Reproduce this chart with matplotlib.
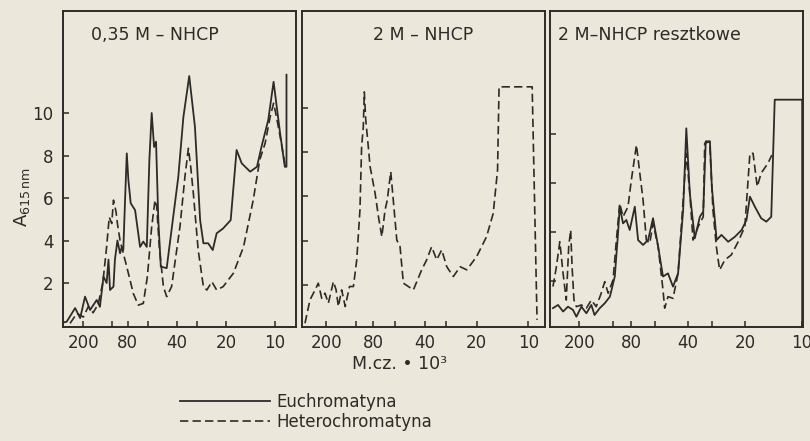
import numpy as np
import matplotlib
matplotlib.use("Agg")
import matplotlib.pyplot as plt

# molecular weight (kDa) and absorbance
p1_eu_m = [320, 299, 244, 216, 192, 170, 145, 134, 123, 114, 109, 105, 98, 96, 92.7, 89.3, 87.1, 85.3, 83.2, 81.2,
           79.4, 76.8, 72.2, 67.3, 64.3, 61.2, 59.0, 57.1, 55.2, 53.7, 52.0, 50.2, 46.2, 39.2, 36.5, 33.6, 31.0,
           28.8, 27.5, 25.7, 24.1, 22.8, 20.8, 18.7, 17.2, 16.0, 14.2, 12.9, 12.1, 11.0, 10.2, 9.3, 8.7, 8.5, 8.5]
p1_eu_a = [0.15, 0.18, 0.82, 0.35, 1.36, 0.73, 1.2, 0.88, 2.3, 2.0, 3.1, 1.67, 1.83, 3.1, 4.0, 3.4, 3.7, 3.55, 5.9, 8.1,
           6.85, 5.75, 5.43, 3.7, 3.95, 3.7, 7.8, 10.0, 8.4, 8.65, 4.96, 2.77, 2.7, 7.0, 9.8, 11.74, 9.36,
           4.96, 3.87, 3.87, 3.55, 4.34, 4.57, 4.96, 8.26, 7.63, 7.24, 7.47, 8.41, 9.67, 11.47, 9.04, 7.47, 7.47, 11.8]
p1_het_m = [276, 234, 200, 177, 158, 140, 125, 114, 107, 100.7, 98, 94.5, 92.7, 89.3, 85.3, 79.4, 74.0, 69.0, 64.3,
            60.7, 57.1, 54.5, 53.2, 51.3, 48.4, 46.2, 43.1, 38.3, 35.7, 34.0, 32.9, 31.7, 29.6, 27.5, 26.2, 24.4,
            22.8, 20.8, 18.0, 15.6, 13.6, 12.4, 11.5, 10.7, 10.2, 9.8, 9.3, 8.7]
p1_het_a = [0.1, 0.57, 0.4, 0.9, 0.6, 1.0, 2.0, 3.7, 5.1, 4.8, 5.9, 5.35, 4.8, 4.0, 3.4, 2.46, 1.5, 0.96, 1.04,
            2.3, 4.65, 5.9, 5.6, 3.7, 1.83, 1.36, 1.83, 4.65, 7.0, 8.34, 7.47, 6.22, 3.55, 1.83, 1.67, 2.06,
            1.67, 1.83, 2.46, 3.7, 5.9, 7.8, 8.57, 9.83, 10.46, 9.83, 8.9, 7.63]

p2_het_m = [324, 289, 257, 239, 221, 205, 190, 169, 159, 151, 140, 129, 117, 107, 99.5, 95.3, 93.2, 91.1, 89.9,
            88.2, 86.3, 83.2, 77.8, 74.4, 71.1, 68.1, 66.1, 63.1, 61.0, 58.2, 55.7, 53.3, 46.6, 41.7, 39.0, 36.5,
            34.1, 31.9, 29.8, 27.3, 24.9, 22.8, 20.0, 17.5, 16.0, 15.1, 14.8, 9.5, 8.9]
p2_het_a = [0.3, 1.35, 1.8, 2.1, 1.42, 1.65, 1.2, 2.17, 1.8, 1.05, 1.8, 1.05, 1.95, 1.95, 3.15, 5.4, 8.24, 9.14, 10.7,
            9.44, 8.69, 7.34, 6.14, 5.09, 4.19, 5.39, 5.84, 7.11, 5.84, 4.04, 3.74, 2.1, 1.8, 2.7, 3.15, 3.74,
            3.15, 3.6, 2.84, 2.4, 2.84, 2.7, 3.29, 4.19, 5.24, 7.19, 10.93, 10.93, 0.45]

p3_eu_m = [347, 312, 281, 254, 229, 213, 192, 173, 156, 146, 131, 118, 106, 97.5, 93.7, 91.8, 88.2, 84.7, 81.3,
           76.4, 73.4, 69.1, 65.0, 61.2, 57.5, 54.2, 51.0, 48.0, 45.1, 42.4, 40.8, 39.1, 36.8, 34.6, 33.2, 32.2,
           30.6, 29.9, 28.2, 26.6, 24.5, 22.6, 20.8, 19.6, 18.8, 17.7, 16.4, 15.4, 14.5, 13.9, 9.95, 9.95]
p3_eu_a = [0.89, 1.02, 0.75, 0.95, 0.82, 0.54, 0.95, 0.68, 1.02, 0.61, 0.89, 1.09, 1.36, 2.18, 3.95, 5.03, 4.35,
           4.49, 4.08, 5.03, 3.67, 3.47, 3.67, 4.56, 3.4, 2.18, 2.31, 1.77, 2.31, 4.9, 8.23, 5.58, 3.74, 4.62,
           4.83, 7.7, 7.7, 5.85, 3.67, 3.88, 3.6, 3.8, 4.08, 4.49, 5.44, 5.03, 4.56, 4.42, 4.62, 9.4, 9.4, 0.13]
p3_het_m = [347, 323, 301, 281, 263, 250, 240, 233, 224, 213, 192, 173, 156, 141, 127, 118, 110, 99.6, 95.6, 91.8,
            88.2, 83.0, 79.7, 74.9, 71.9, 69.1, 66.4, 63.7, 61.2, 57.5, 54.2, 53.1, 51.0, 48.0, 45.1, 42.4, 40.8,
            39.1, 37.6, 35.3, 33.2, 32.6, 30.7, 29.5, 28.3, 27.2, 25.5, 23.6, 21.7, 20.0, 18.8, 18.1, 17.2, 16.4,
            15.1, 14.4]
p3_het_a = [1.77, 2.58, 3.6, 2.31, 1.22, 3.4, 4.08, 2.58, 1.22, 0.95, 1.02, 0.89, 1.22, 0.95, 1.5, 1.97, 1.5, 2.04,
            3.67, 5.17, 4.62, 5.03, 6.12, 7.55, 6.4, 5.31, 3.67, 3.54, 4.35, 3.4, 1.63, 0.89, 1.36, 1.29, 2.31,
            5.31, 7.21, 5.58, 3.67, 4.22, 4.62, 7.62, 7.69, 4.9, 3.4, 2.45, 2.86, 3.06, 3.6, 4.22, 7.21, 7.21,
            5.85, 6.4, 6.8, 7.14]

titles = ["0,35 M – NHCP", "2 M – NHCP", "2 M–NHCP resztkowe"]
tick_vals = [200, 80, 40, 20, 10]
tick_labels = ["200", "80", "40", "20", "10"]
minor_vals = [100, 60, 30]
y_ticks = [[2, 4, 6, 8, 10], [2, 4, 6, 8, 10], [2, 4, 6, 8]]

paper = "#ebe7db"
ink = "#2d2b28"


# gel filtration scale: log below 100 kDa, compressed above
def fwd(m):
    lm = np.log10(np.clip(np.asarray(m, float), 1e-6, None))
    return np.where(lm > 2, 2 + (lm - 2) * 0.585, lm)


def inv(p):
    p = np.asarray(p, float)
    return np.where(p > 2, 10 ** (2 + (p - 2) / 0.585), 10 ** p)


fig = plt.figure(figsize=(8.1, 4.41), dpi=100, facecolor=paper)
boxes = [[63 / 810, 114 / 441, 233 / 810, 316 / 441],
         [302 / 810, 114 / 441, 243 / 810, 316 / 441],
         [550 / 810, 114 / 441, 253 / 810, 316 / 441]]
xlims = [(327, 7.43), (347, 8.0), (369, 9.85)]
ylims = [(-0.07, 14.8), (0.13, 14.34), (0.12, 13.02)]

dash = (0, (5, 2.5))
axes = []
for i in range(3):
    ax = fig.add_axes(boxes[i])
    ax.set_facecolor(paper)
    ax.set_xscale("function", functions=(fwd, inv))
    ax.set_xlim(*xlims[i])
    ax.set_ylim(*ylims[i])
    for s in ax.spines.values():
        s.set_color(ink)
        s.set_linewidth(1.4)
    ax.set_xticks(tick_vals)
    ax.set_xticklabels(tick_labels)
    ax.set_xticks(minor_vals, minor=True)
    ax.set_yticks(y_ticks[i])
    if i == 0:
        ax.set_yticklabels([str(v) for v in y_ticks[i]])
    else:
        ax.set_yticklabels([])
    ax.tick_params(which="both", direction="in", length=4, width=1.1, color=ink,
                   labelcolor=ink, labelsize=12)
    ax.tick_params(axis="x", pad=5)
    ax.tick_params(axis="y", pad=7)
    ax.text(0.5 if i == 1 else (0.12 if i == 0 else 0.03), 0.925, titles[i],
            transform=ax.transAxes, ha="center" if i == 1 else "left", va="center",
            fontsize=12.5, color=ink)
    axes.append(ax)

ax1, ax2, ax3 = axes
l_eu, = ax1.plot(p1_eu_m, p1_eu_a, color=ink, lw=1.3, label="Euchromatyna")
l_het, = ax1.plot(p1_het_m, p1_het_a, color=ink, lw=1.2, ls=dash, label="Heterochromatyna")
ax2.plot(p2_het_m, p2_het_a, color=ink, lw=1.2, ls=dash)
ax3.plot(p3_eu_m, p3_eu_a, color=ink, lw=1.3)
ax3.plot(p3_het_m, p3_het_a, color=ink, lw=1.2, ls=dash)

fig.text(22 / 810, 1 - 197 / 441, r"A$_{\mathregular{615\,nm}}$", rotation=90,
         ha="center", va="center", fontsize=13, color=ink)
fig.text(400 / 810, 1 - 364 / 441, "M.cz. • 10³", ha="center", va="center",
         fontsize=12.5, color=ink)

leg = fig.legend(handles=[l_eu, l_het], loc="upper left", bbox_to_anchor=(180 / 810, 1 - 393 / 441),
                 frameon=False, handlelength=5.4, handletextpad=0.4, labelspacing=0.12,
                 borderpad=0, borderaxespad=0, fontsize=12)
for t in leg.get_texts():
    t.set_color(ink)

fig.savefig("out.png", dpi=100, facecolor=paper)
